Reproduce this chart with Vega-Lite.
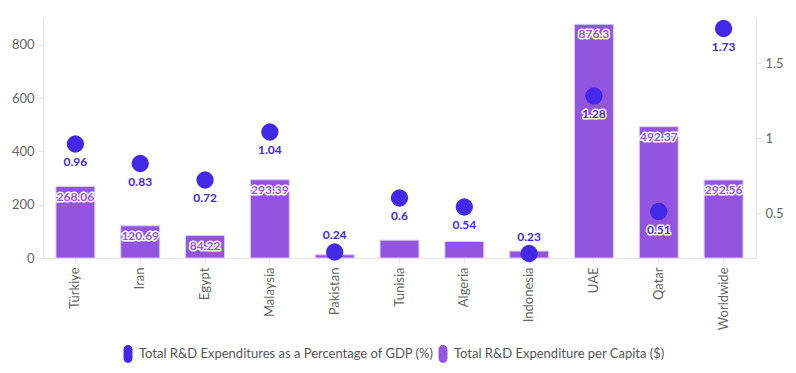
{
  "$schema": "https://vega.github.io/schema/vega-lite/v6.json",
  "width": 713,
  "height": 240,
  "padding": {"left": 11, "top": 18, "right": 5, "bottom": 5},
  "background": "white",
  "config": {
    "font": "Lato",
    "view": {"stroke": null},
    "axis": {"grid": false, "domainColor": "#e6e6e6", "tickColor": "#e6e6e6", "labelColor": "#666666", "labelFontSize": 13, "titleFontSize": 13, "labelFont": "Lato"},
    "legend": {"labelFont": "Lato"}
  },
  "data": {
    "values": [
      {"country": "Türkiye", "perCapita": 268.06, "gdp": 0.96},
      {"country": "Iran", "perCapita": 120.69, "gdp": 0.83},
      {"country": "Egypt", "perCapita": 84.22, "gdp": 0.72},
      {"country": "Malaysia", "perCapita": 293.39, "gdp": 1.04},
      {"country": "Pakistan", "perCapita": 12, "gdp": 0.24},
      {"country": "Tunisia", "perCapita": 67, "gdp": 0.6},
      {"country": "Algeria", "perCapita": 62, "gdp": 0.54},
      {"country": "Indonesia", "perCapita": 26, "gdp": 0.23},
      {"country": "UAE", "perCapita": 876.3, "gdp": 1.28},
      {"country": "Qatar", "perCapita": 492.37, "gdp": 0.51},
      {"country": "Worldwide", "perCapita": 292.56, "gdp": 1.73}
    ]
  },
  "encoding": {
    "x": {
      "field": "country", "type": "nominal", "sort": null, "title": null,
      "scale": {"paddingInner": 0.4, "paddingOuter": 0.2},
      "axis": {"labelAngle": -90, "labelAlign": "right", "labelBaseline": "middle", "ticks": true, "tickSize": 5, "labelPadding": 4}
    }
  },
  "layer": [
    {
      "layer": [
        {
          "mark": {"type": "bar", "stroke": "#dccbf7", "strokeWidth": 1},
          "encoding": {
            "y": {"field": "perCapita", "type": "quantitative", "title": null,
                  "scale": {"domain": [0, 900], "nice": false},
                  "axis": {"values": [0, 200, 400, 600, 800], "tickSize": 5, "labelPadding": 4}},
            "color": {"datum": "Total R&D Expenditure per Capita ($)", "type": "nominal",
                      "scale": {"domain": ["Total R&D Expenditures as a Percentage of GDP (%)", "Total R&D Expenditure per Capita ($)"], "range": ["#4328e7", "#9155e0"]},
                      "legend": {"title": null, "orient": "none", "legendX": 76, "legendY": 327, "direction": "horizontal", "labelFontSize": 13, "labelColor": "#555555", "labelLimit": 0, "symbolType": "M-0.5,-0.5A0.5,0.5,0,0,1,0.5,-0.5L0.5,0.5A0.5,0.5,0,0,1,-0.5,0.5Z", "symbolSize": 320, "symbolStrokeWidth": 0, "symbolOpacity": 1, "columnPadding": -4, "labelOffset": 2}}
          }
        },
        {
          "transform": [{"filter": "datum.perCapita >= 80"}],
          "mark": {"type": "text", "fontSize": 12, "fontWeight": "bold", "baseline": "middle", "dy": 10, "fill": "white", "stroke": "white", "strokeWidth": 3, "strokeJoin": "round"},
          "encoding": {
            "y": {"field": "perCapita", "type": "quantitative"},
            "text": {"field": "perCapita", "type": "quantitative"}
          }
        },
        {
          "transform": [{"filter": "datum.perCapita >= 80"}],
          "mark": {"type": "text", "fontSize": 12, "fontWeight": "bold", "baseline": "middle", "dy": 10, "fill": "#9155e0"},
          "encoding": {
            "y": {"field": "perCapita", "type": "quantitative"},
            "text": {"field": "perCapita", "type": "quantitative"}
          }
        }
      ]
    },
    {
      "layer": [
        {
          "mark": {"type": "point", "filled": true, "size": 300, "opacity": 1, "shape": "circle"},
          "encoding": {
            "y": {"field": "gdp", "type": "quantitative", "title": null,
                  "scale": {"domain": [0.2, 1.8], "nice": false, "zero": false},
                  "axis": {"orient": "right", "values": [0.5, 1, 1.5], "format": ".1~f", "tickSize": 5, "labelPadding": 4}},
            "color": {"datum": "Total R&D Expenditures as a Percentage of GDP (%)", "type": "nominal"}
          }
        },
        {
          "transform": [{"filter": "datum.gdp >= 0.3"}],
          "mark": {"type": "text", "fontSize": 12, "fontWeight": "bold", "baseline": "middle", "dy": 18, "fill": "white", "stroke": "white", "strokeWidth": 3, "strokeJoin": "round"},
          "encoding": {"y": {"field": "gdp", "type": "quantitative"}, "text": {"field": "gdp", "type": "quantitative"}}
        },
        {
          "transform": [{"filter": "datum.gdp >= 0.3"}],
          "mark": {"type": "text", "fontSize": 12, "fontWeight": "bold", "baseline": "middle", "dy": 18, "fill": "#4328e7"},
          "encoding": {"y": {"field": "gdp", "type": "quantitative"}, "text": {"field": "gdp", "type": "quantitative"}}
        },
        {
          "transform": [{"filter": "datum.gdp < 0.3"}],
          "mark": {"type": "text", "fontSize": 12, "fontWeight": "bold", "baseline": "middle", "dy": -17, "fill": "#4328e7"},
          "encoding": {"y": {"field": "gdp", "type": "quantitative"}, "text": {"field": "gdp", "type": "quantitative"}}
        }
      ]
    }
  ],
  "resolve": {"scale": {"y": "independent"}}
}
